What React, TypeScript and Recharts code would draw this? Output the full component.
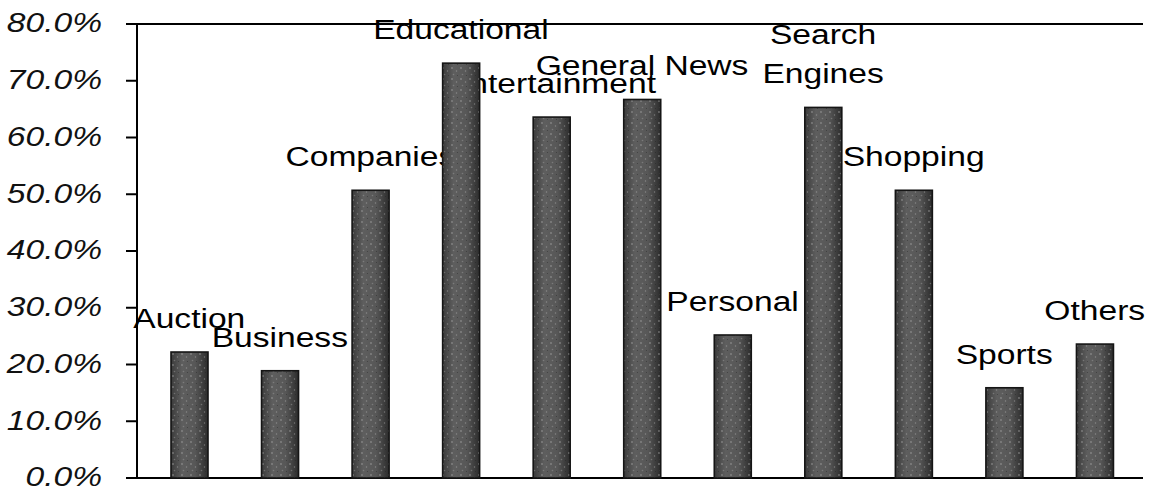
import React from "react";
import {
  ComposedChart,
  BarChart,
  Bar,
  Area,
  XAxis,
  YAxis,
  CartesianGrid,
} from "recharts";

const categories = [
  "Auction",
  "Business",
  "Companies",
  "Educational",
  "Entertainment",
  "General News",
  "Personal",
  "Search Engines",
  "Shopping",
  "Sports",
  "Others",
];

const shares = [22.2, 18.9, 50.7, 73.1, 63.6, 66.7, 25.2, 65.3, 50.7, 15.9, 23.6];

const barLabels = [
  "Auction",
  "Business",
  "Companies",
  "Educational",
  "Entertainment",
  "General News",
  "Personal",
  "Search\nEngines",
  "Shopping",
  "Sports",
  "Others",
];

const yTicks = [0, 10, 20, 30, 40, 50, 60, 70, 80];

const data = categories.map((c, i) => ({
  category: c,
  value: shares[i],
  label: barLabels[i],
}));

const FONT = "'Liberation Sans', Arial, Helvetica, sans-serif";
const STRETCH = 1.2;
const W = 1157;
const H = 491;
const MARGIN = { top: 24, right: 14, bottom: 13, left: 0 };
const X_PAD = { left: 7, right: 3 };

const LabelDot = (props: any) => {
  const { cx, cy, payload, index } = props;
  if (cx == null || cy == null || !payload) return <g key={`ld-${index}`} />;
  const lines = String(payload.label).split("\n");
  const lh = 39;
  return (
    <text
      key={`ld-${index}`}
      transform={`translate(${cx},${cy - 24}) scale(${STRETCH},1)`}
      textAnchor="middle"
      fontSize={28}
      fontFamily={FONT}
      fill="#000"
    >
      {lines.map((l, i) => (
        <tspan key={i} x={0} y={-(lines.length - 1 - i) * lh}>
          {l}
        </tspan>
      ))}
    </text>
  );
};

const YTick = (props: any) => {
  const { x, y, payload } = props;
  return (
    <text
      transform={`translate(${x},${y}) scale(${STRETCH},1)`}
      textAnchor="end"
      dy="0.3em"
      fontSize={28}
      fontStyle="italic"
      fontFamily={FONT}
      fill="#111"
    >
      {`${Number(payload.value).toFixed(1)}%`}
    </text>
  );
};

const BarShape = (props: any) => {
  const { x, y, width, height } = props;
  if (width == null || height == null || height <= 0) return <g />;
  return (
    <g>
      <rect x={x} y={y} width={width} height={height} fill="url(#barGrad)" />
      <rect x={x} y={y} width={width} height={height} fill="url(#speckle)" />
      <rect
        x={x}
        y={y}
        width={width}
        height={height}
        fill="none"
        stroke="#151515"
        strokeWidth={1.6}
      />
    </g>
  );
};

const EmptyShape = () => <g />;

export default function App() {
  return (
    <div
      style={{
        position: "absolute",
        left: 0,
        top: 0,
        width: W,
        height: H,
        background: "#fff",
      }}
    >
      {/* bottom layer: grid, axes and category labels */}
      <div style={{ position: "absolute", left: 0, top: 0 }}>
        <ComposedChart width={W} height={H} data={data} margin={MARGIN}>
          <CartesianGrid horizontal vertical={false} stroke="#000" strokeWidth={2} />
          <XAxis dataKey="category" type="category" hide padding={X_PAD} />
          <YAxis
            yAxisId="left"
            type="number"
            domain={[0, 80]}
            ticks={yTicks}
            width={137}
            tickSize={11}
            tickMargin={24}
            tick={<YTick />}
            axisLine={{ stroke: "#000", strokeWidth: 2 }}
            tickLine={{ stroke: "#000", strokeWidth: 2 }}
            interval={0}
          />
          <YAxis
            yAxisId="right"
            orientation="right"
            type="number"
            domain={[0, 80]}
            ticks={yTicks}
            width={0}
            tick={false}
            tickLine={false}
            axisLine={{ stroke: "#000", strokeWidth: 2 }}
          />
          <Bar
            yAxisId="left"
            dataKey="value"
            barSize={37}
            fill="none"
            shape={<EmptyShape />}
            isAnimationActive={false}
          />
          <Area
            yAxisId="left"
            dataKey="value"
            stroke="none"
            fill="none"
            dot={(p: any) => <LabelDot {...p} />}
            activeDot={false}
            isAnimationActive={false}
          />
        </ComposedChart>
      </div>
      {/* top layer: bars, drawn over the labels */}
      <div style={{ position: "absolute", left: 0, top: 0 }}>
        <BarChart width={W} height={H} data={data} margin={MARGIN}>
          <defs>
            <linearGradient id="barGrad" x1="0" y1="0" x2="1" y2="0">
              <stop offset="0%" stopColor="#3a3a3a" />
              <stop offset="30%" stopColor="#5e5e5e" />
              <stop offset="65%" stopColor="#575757" />
              <stop offset="100%" stopColor="#2c2c2c" />
            </linearGradient>
            <pattern id="speckle" width="9" height="11" patternUnits="userSpaceOnUse">
              <circle cx="2" cy="2" r="0.9" fill="#a8a8a8" opacity="0.55" />
              <circle cx="6.5" cy="5" r="0.7" fill="#b5b5b5" opacity="0.5" />
              <circle cx="3.5" cy="8.5" r="0.8" fill="#9a9a9a" opacity="0.5" />
              <circle cx="7.5" cy="9.5" r="0.6" fill="#222" opacity="0.5" />
            </pattern>
          </defs>
          <XAxis dataKey="category" type="category" hide padding={X_PAD} />
          <YAxis
            type="number"
            domain={[0, 80]}
            ticks={yTicks}
            width={137}
            tick={false}
            tickLine={false}
            axisLine={false}
          />
          <Bar
            dataKey="value"
            barSize={37}
            shape={<BarShape />}
            isAnimationActive={false}
          />
        </BarChart>
      </div>
    </div>
  );
}
